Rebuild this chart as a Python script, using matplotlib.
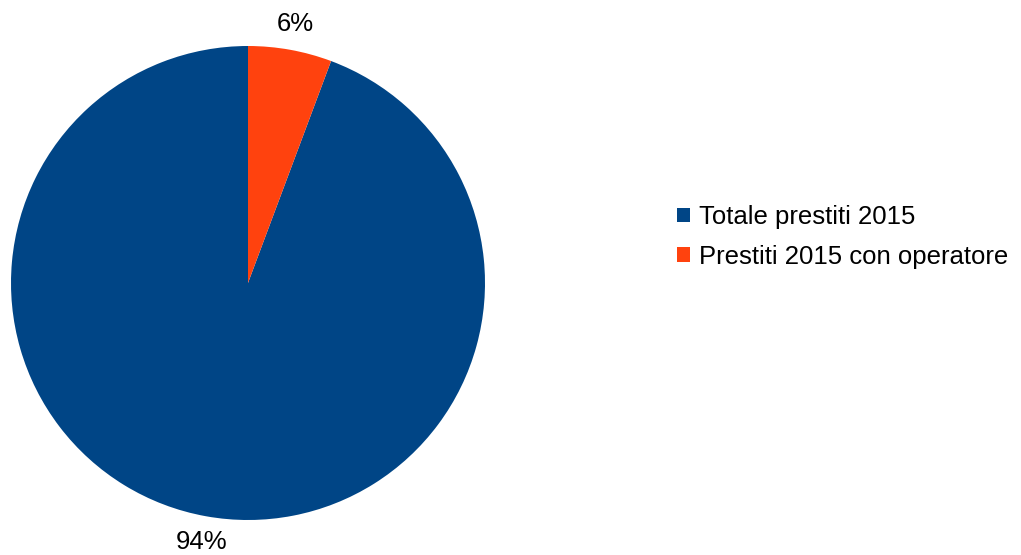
import matplotlib
matplotlib.use('Agg')
import matplotlib.pyplot as plt

plt.rcParams['font.family'] = ['Liberation Sans', 'DejaVu Sans']

# data
labels = ['Totale prestiti 2015', 'Prestiti 2015 con operatore']
values = [94.3, 5.7]
colors = ['#004586', '#ff420e']

fig = plt.figure(figsize=(10.21, 5.55), dpi=100)
ax = fig.add_axes([11 / 1021, 35 / 555, 474 / 1021, 474 / 555])

wedges, texts, autotexts = ax.pie(values, colors=colors, startangle=90,
                                  counterclock=True, radius=1,
                                  autopct='%1.0f%%', pctdistance=1.11,
                                  textprops={'fontsize': 18.5, 'color': 'black'})
ax.set_xlim(-1, 1)
ax.set_ylim(-1, 1)
ax.set_aspect('equal')

fig.legend(wedges, labels, loc='center left', bbox_to_anchor=(0.663, 0.573),
           frameon=False, fontsize=18.5, handlelength=0.5, handleheight=0.5,
           handletextpad=0.35, labelspacing=0.6, borderpad=0, borderaxespad=0)

fig.savefig('out.png', dpi=100)
